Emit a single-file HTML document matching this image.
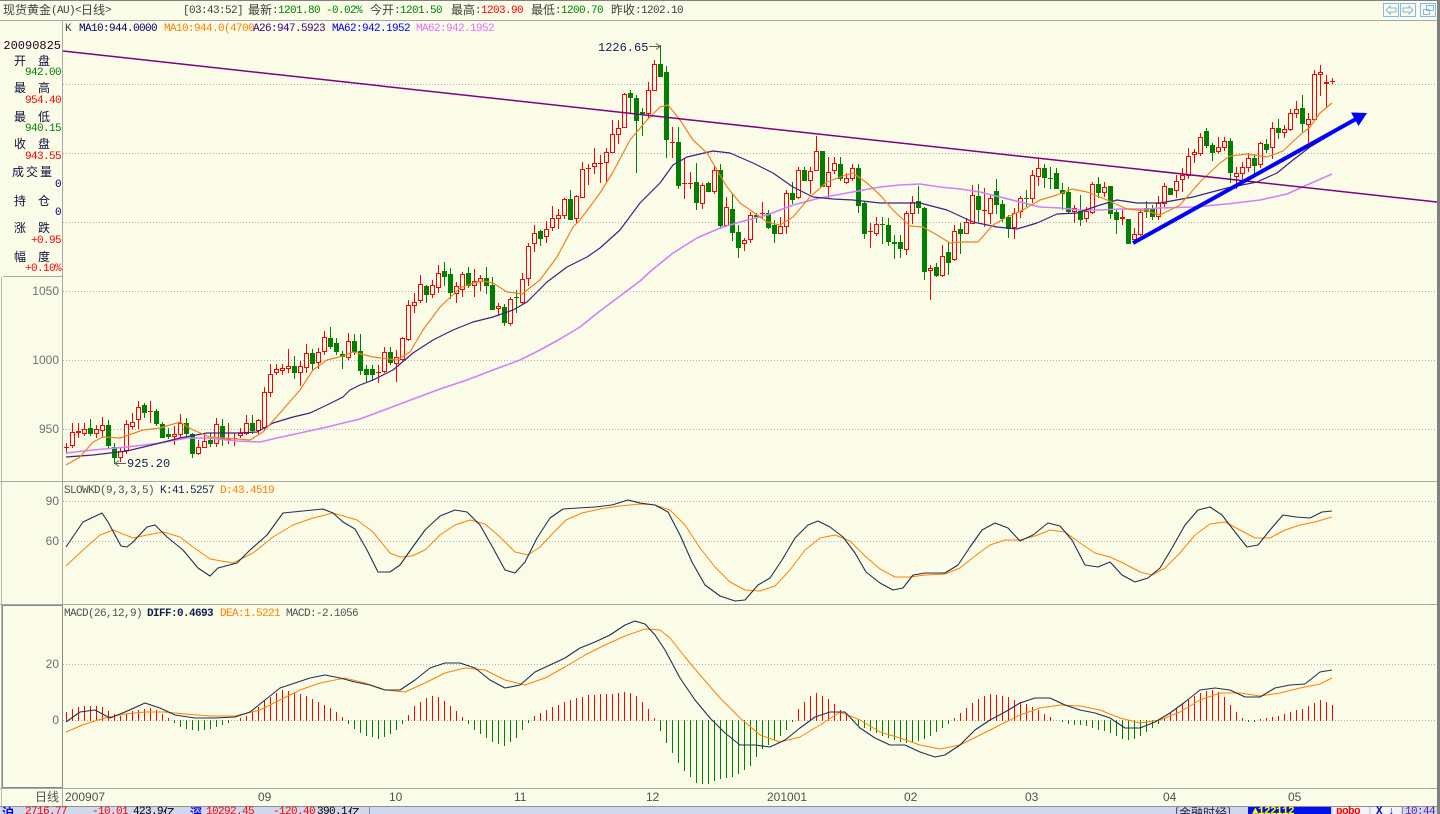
<!DOCTYPE html>
<html><head><meta charset="utf-8">
<style>
html,body{margin:0;padding:0;width:1440px;height:814px;overflow:hidden;background:#FAFCE8;}
#wrap{position:relative;width:1440px;height:814px;overflow:hidden;background:#FAFCE8;}
svg{position:absolute;left:0;top:0;}
#dyn{position:absolute;left:0;top:0;width:1440px;height:814px;}
.m{position:absolute;white-space:pre;font-family:"Liberation Mono",monospace;font-size:11px;letter-spacing:-0.6px;line-height:12px;}
.m12{position:absolute;white-space:pre;font-family:"Liberation Mono",monospace;font-size:12px;line-height:12px;}
.c{position:absolute;white-space:pre;font-family:"Noto Sans CJK SC","WenQuanYi Zen Hei",sans-serif;font-size:12px;line-height:12px;}
.ax{position:absolute;left:0;width:59px;text-align:right;font-family:"Liberation Sans",sans-serif;font-size:12px;line-height:12px;color:#707070;}
.xl{position:absolute;white-space:pre;font-family:"Liberation Sans Narrow","Liberation Sans",sans-serif;font-size:12px;line-height:12px;color:#505050;}
</style></head>
<body><div id="wrap">

<svg width="1440" height="814" shape-rendering="crispEdges">
  <!-- borders -->
  <rect x="0" y="0" width="1440" height="1" fill="#808080"/>
  <rect x="1437" y="0" width="3" height="814" fill="#808080"/>
  <line x1="0" y1="20.5" x2="1437" y2="20.5" stroke="#A8A8A8"/>
  <line x1="62.5" y1="21" x2="62.5" y2="806" stroke="#A8A8A8"/>
  <line x1="0" y1="481.5" x2="1437" y2="481.5" stroke="#A8A8A8"/>
  <line x1="0" y1="604.5" x2="1437" y2="604.5" stroke="#A8A8A8"/>
  <line x1="0" y1="788.5" x2="1437" y2="788.5" stroke="#A8A8A8"/>
  <line x1="3" y1="276.5" x2="62" y2="276.5" stroke="#A8A8A8"/>
  <line x1="1.5" y1="277" x2="1.5" y2="806" stroke="#B8B8B8"/>
  <rect x="2.5" y="605.5" width="60" height="182" fill="none" stroke="#888888"/>
  <!-- dotted grids -->
  <g stroke="#B0B0B0" stroke-dasharray="1 2">
    <line x1="63" y1="84.5" x2="1437" y2="84.5"/>
    <line x1="63" y1="153.5" x2="1437" y2="153.5"/>
    <line x1="63" y1="222.5" x2="1437" y2="222.5"/>
    <line x1="63" y1="291.5" x2="1437" y2="291.5"/>
    <line x1="63" y1="360.5" x2="1437" y2="360.5"/>
    <line x1="63" y1="429.5" x2="1437" y2="429.5"/>
    <line x1="63" y1="501.5" x2="1437" y2="501.5"/>
    <line x1="63" y1="541.5" x2="1437" y2="541.5"/>
    <line x1="63" y1="664.5" x2="1437" y2="664.5"/>
    <line x1="63" y1="720.5" x2="1437" y2="720.5"/>
  </g>
  <!-- top right buttons -->
  <g fill="none" stroke="#80B8F0">
    <rect x="1383.5" y="3.5" width="15" height="13"/>
    <rect x="1400.5" y="3.5" width="15" height="13"/>
    <rect x="1420.5" y="3.5" width="15" height="13"/>
    <polyline points="1386,10 1390,6 1390,8 1396,8 1396,12 1390,12 1390,14 1386,10"/>
    <polyline points="1413,10 1409,6 1409,8 1403,8 1403,12 1409,12 1409,14 1413,10"/>
    <rect x="1426.5" y="5.5" width="7" height="5"/>
    <rect x="1423.5" y="9.5" width="6" height="5"/>
  </g>
  <!-- status bar -->
  <rect x="0" y="806" width="1437" height="8" fill="#D0D8EE"/>
  <line x1="0" y1="806.5" x2="1437" y2="806.5" stroke="#909090"/>
  <line x1="369.5" y1="807" x2="369.5" y2="814" stroke="#8090B0"/>
  <rect x="1248" y="807" width="83" height="7" fill="#0010F0"/>
  <rect x="1333" y="807" width="36" height="7" fill="#F4F4F4"/>
  <rect x="1371" y="807" width="30" height="7" fill="#F4F4F4"/>
  <line x1="1402.5" y1="807" x2="1402.5" y2="814" stroke="#8090B0"/>
</svg>

<div id="dyn"></div>

<svg width="1440" height="814">
  <line x1="63" y1="51" x2="1437" y2="202" stroke="#800080" stroke-width="1.5"/>
  <line x1="1133" y1="243" x2="1356" y2="119" stroke="#0000FF" stroke-width="4"/>
  <polygon points="1367,113 1358.5,126 1351,112.5" fill="#0000FF"/>
  <line x1="649" y1="46.5" x2="660" y2="46.5" stroke="#606060"/>
  <polyline points="656,43.5 660,46.5 656,49.5" fill="none" stroke="#606060"/>
  <line x1="116" y1="463.5" x2="126" y2="463.5" stroke="#606060"/>
  <polyline points="119,460.5 115,463.5 119,466.5" fill="none" stroke="#606060"/>
</svg>

<!-- title bar -->
<div class="c" style="left:3px;top:4px;color:#404040">现货黄金</div>
<div class="m" style="left:51px;top:4.5px;color:#404040">(AU)&lt;</div>
<div class="c" style="left:81px;top:4px;color:#404040">日线</div>
<div class="m" style="left:105px;top:4.5px;color:#404040">&gt;</div>
<div class="m" style="left:183px;top:4.5px;color:#404040">[03:43:52]</div>
<div class="c" style="left:248px;top:4px;color:#404040">最新</div>
<div class="m" style="left:272px;top:4.5px;color:#404040">:</div>
<div class="m" style="left:278px;top:4.5px;color:#008000">1201.80 -0.02%</div>
<div class="c" style="left:370px;top:4px;color:#404040">今开</div>
<div class="m" style="left:394px;top:4.5px;color:#404040">:</div>
<div class="m" style="left:400px;top:4.5px;color:#008000">1201.50</div>
<div class="c" style="left:451px;top:4px;color:#404040">最高</div>
<div class="m" style="left:475px;top:4.5px;color:#404040">:</div>
<div class="m" style="left:481px;top:4.5px;color:#FF0000">1203.90</div>
<div class="c" style="left:531px;top:4px;color:#404040">最低</div>
<div class="m" style="left:555px;top:4.5px;color:#404040">:</div>
<div class="m" style="left:561px;top:4.5px;color:#008000">1200.70</div>
<div class="c" style="left:611px;top:4px;color:#404040">昨收</div>
<div class="m" style="left:635px;top:4.5px;color:#404040">:</div>
<div class="m" style="left:641px;top:4.5px;color:#404040">1202.10</div>

<!-- legend main -->
<div class="m" style="left:65px;top:22.5px;color:#404040">K</div>
<div class="m" style="left:79px;top:22.5px;color:#000060">MA10:944.0000</div>
<div class="m" style="left:164px;top:22.5px;color:#FF8000">MA10:944.0(4700</div>
<div class="m" style="left:253px;top:22.5px;color:#400080">A26:947.5923</div>
<div class="m" style="left:332px;top:22.5px;color:#0000FF">MA62:942.1952</div>
<div class="m" style="left:416px;top:22.5px;color:#E070FF">MA62:942.1952</div>

<!-- left info panel -->
<div class="m12" style="left:3.4px;top:39.7px;color:#200020">20090825</div>
<div class="c" style="left:14px;top:55px;color:#101040">开</div><div class="c" style="left:38px;top:55px;color:#101040">盘</div>
<div class="m" style="left:25px;top:67px;color:#008000">942.00</div>
<div class="c" style="left:14px;top:82px;color:#101040">最</div><div class="c" style="left:38px;top:82px;color:#101040">高</div>
<div class="m" style="left:25px;top:94.5px;color:#FF0000">954.40</div>
<div class="c" style="left:14px;top:110.5px;color:#101040">最</div><div class="c" style="left:38px;top:110.5px;color:#101040">低</div>
<div class="m" style="left:25px;top:123px;color:#008000">940.15</div>
<div class="c" style="left:14px;top:138px;color:#101040">收</div><div class="c" style="left:38px;top:138px;color:#101040">盘</div>
<div class="m" style="left:25px;top:151px;color:#FF0000">943.55</div>
<div class="c" style="left:12px;top:166px;color:#101040">成</div><div class="c" style="left:26px;top:166px;color:#101040">交</div><div class="c" style="left:40px;top:166px;color:#101040">量</div>
<div class="m" style="left:55px;top:178.5px;color:#000080">0</div>
<div class="c" style="left:14px;top:194.5px;color:#101040">持</div><div class="c" style="left:38px;top:194.5px;color:#101040">仓</div>
<div class="m" style="left:55px;top:207px;color:#000080">0</div>
<div class="c" style="left:14px;top:222px;color:#101040">涨</div><div class="c" style="left:38px;top:222px;color:#101040">跌</div>
<div class="m" style="left:31px;top:235px;color:#FF0000">+0.95</div>
<div class="c" style="left:14px;top:250.5px;color:#101040">幅</div><div class="c" style="left:38px;top:250.5px;color:#101040">度</div>
<div class="m" style="left:25px;top:263px;color:#FF0000">+0.10%</div>

<!-- axis labels -->
<div class="ax" style="top:285px">1050</div>
<div class="ax" style="top:354px">1000</div>
<div class="ax" style="top:423px">950</div>
<div class="ax" style="top:495px">90</div>
<div class="ax" style="top:535px">60</div>
<div class="ax" style="top:658px">20</div>
<div class="ax" style="top:714px">0</div>

<!-- price annotations -->
<div class="m12" style="left:598px;top:41.5px;color:#102050">1226.65</div>
<div class="m12" style="left:127px;top:457.5px;color:#102050">925.20</div>

<!-- KD legend -->
<div class="m" style="left:64px;top:484.5px;color:#505050">SLOWKD(9,3,3,5)</div>
<div class="m" style="left:160px;top:484.5px;color:#102050">K:41.5257</div>
<div class="m" style="left:220px;top:484.5px;color:#FF8000">D:43.4519</div>
<!-- MACD legend -->
<div class="m" style="left:64px;top:607.5px;color:#505050">MACD(26,12,9)</div>
<div class="m" style="left:147px;top:607.5px;color:#102050;font-weight:bold">DIFF:0.4693</div>
<div class="m" style="left:220px;top:607.5px;color:#FF8000">DEA:1.5221</div>
<div class="m" style="left:286px;top:607.5px;color:#505050">MACD:-2.1056</div>

<!-- x axis -->
<div class="c" style="left:35px;top:791px;color:#505050">日线</div>
<div class="xl" style="left:65px;top:791px">200907</div>
<div class="xl" style="left:258px;top:791px">09</div>
<div class="xl" style="left:389px;top:791px">10</div>
<div class="xl" style="left:514px;top:791px">11</div>
<div class="xl" style="left:646px;top:791px">12</div>
<div class="xl" style="left:767px;top:791px">201001</div>
<div class="xl" style="left:904px;top:791px">02</div>
<div class="xl" style="left:1025px;top:791px">03</div>
<div class="xl" style="left:1163px;top:791px">04</div>
<div class="xl" style="left:1288px;top:791px">05</div>

<!-- status bar texts -->
<div class="c" style="left:2px;top:807px;color:#0000FF;font-weight:bold">沪</div>
<div class="m" style="left:25px;top:806px;color:#FF0000">2716.77</div>
<div class="m" style="left:92px;top:806px;color:#FF0000">-10.01</div>
<div class="m" style="left:133px;top:806px;color:#000000">423.9</div>
<div class="c" style="left:163px;top:807px;color:#000000">亿</div>
<div class="c" style="left:190px;top:807px;color:#0000FF;font-weight:bold">深</div>
<div class="m" style="left:206px;top:806px;color:#FF0000">10292.45</div>
<div class="m" style="left:273px;top:806px;color:#FF0000">-120.40</div>
<div class="m" style="left:317px;top:806px;color:#000000">390.1</div>
<div class="c" style="left:348px;top:807px;color:#000000">亿</div>
<div class="c" style="left:1175px;top:807px;color:#202040">[金融时经]</div>
<div class="m" style="left:1252px;top:806px;color:#FFFF00;font-weight:bold">▲122112</div>
<div class="m" style="left:1336px;top:806px;color:#FF0000;font-weight:bold">pobo</div>
<div class="m" style="left:1376px;top:806px;color:#0000C0;font-weight:bold">X ↓</div>
<div class="m" style="left:1405px;top:806px;color:#6020A0">10:44</div>

<script>
(function(){
var D=[
[447,447,443,453,1],[432,445,423,447,1],[431,432,423,437,1],[429,433,423,435,1],[428,433,419,435,0],
[429,433,425,437,1],[425,430,417,437,1],[425,445,420,447,0],[447,457,443,463,0],[451,457,447,461,1],
[424,450,420,453,1],[422,426,413,428,1],[407,419,401,428,1],[405,412,403,417,0],[411,411,401,422,1],
[411,423,409,425,0],[424,437,422,437,0],[434,436,428,438,0],[434,436,426,444,1],[423,434,414,437,1],
[423,433,418,437,0],[434,453,433,457,0],[447,453,440,454,1],[441,447,435,447,1],[440,443,433,446,0],
[424,443,418,446,1],[426,439,419,445,0],[438,439,423,443,1],[438,438,433,445,1],[433,435,428,437,1],
[423,433,415,434,1],[423,430,415,433,0],[420,430,419,433,1],[392,427,387,430,1],[374,392,364,396,1],
[369,372,364,374,1],[368,370,364,374,1],[366,368,349,372,1],[366,372,356,378,0],[366,372,361,385,1],
[353,367,344,372,1],[353,363,349,370,0],[352,362,348,368,1],[337,351,331,354,1],[338,346,327,348,0],
[343,351,338,354,0],[354,356,351,368,0],[341,357,333,359,1],[341,351,334,354,0],[351,370,334,374,0],
[369,374,365,381,0],[369,374,365,380,0],[372,372,365,382,1],[352,371,347,372,1],[352,362,347,364,0],
[357,363,350,381,1],[338,359,337,360,1],[305,339,300,340,1],[302,305,293,312,1],[284,300,275,302,1],
[286,294,285,302,0],[285,294,280,297,1],[273,287,265,292,1],[271,276,262,285,0],[274,292,268,298,0],
[286,293,282,302,1],[274,289,272,296,1],[273,285,267,287,0],[281,285,269,296,1],[278,281,275,290,1],
[278,285,267,293,0],[285,309,277,309,0],[306,308,303,315,1],[307,322,304,325,0],[299,323,297,325,1],
[297,297,290,312,0],[279,302,273,303,1],[246,278,243,285,1],[233,243,225,251,1],[231,238,230,245,0],
[229,236,221,242,1],[218,227,206,230,1],[215,218,209,228,1],[199,215,198,218,1],[199,219,190,219,0],
[196,218,195,222,1],[169,197,162,197,1],[168,168,164,184,1],[163,166,148,173,1],[163,163,155,182,1],
[152,162,148,181,1],[134,152,120,152,1],[128,134,120,143,1],[94,127,93,127,1],[93,97,90,112,0],
[98,120,95,172,0],[112,113,108,135,0],[90,113,82,118,1],[64,90,60,90,1],[64,76,45,76,0],
[72,139,66,157,0],[142,142,127,157,1],[142,185,127,188,0],[183,183,158,198,1],[183,183,172,188,1],
[182,202,163,209,0],[185,203,183,208,1],[183,191,182,191,0],[170,191,166,193,1],[170,225,164,228,0],
[207,225,197,225,1],[209,232,194,240,0],[232,247,225,257,0],[240,243,238,250,1],[215,239,212,242,1],
[215,216,213,222,0],[213,213,202,217,1],[213,227,210,228,0],[225,233,220,242,0],[226,233,217,233,1],
[193,226,190,233,1],[193,199,182,203,0],[170,197,167,198,1],[170,180,167,180,0],[171,180,167,193,1],
[151,170,136,170,1],[151,186,151,186,0],[172,186,157,197,1],[163,170,157,173,1],[164,178,157,180,0],
[178,182,173,183,1],[168,178,164,180,1],[168,205,164,212,0],[203,233,202,238,0],[231,231,223,247,1],
[224,233,217,235,1],[224,224,217,243,0],[225,241,218,245,0],[242,243,235,258,0],[242,248,235,257,0],
[213,249,211,254,1],[202,213,196,223,1],[201,207,186,213,0],[208,271,207,279,0],[268,270,265,299,1],
[267,275,263,276,0],[256,275,245,276,1],[252,262,242,274,0],[231,259,225,260,1],[229,233,223,253,0],
[222,233,218,233,1],[195,223,185,223,1],[196,209,184,221,0],[210,210,188,226,1],[198,213,194,223,1],
[191,204,179,213,0],[204,218,200,221,0],[217,228,215,237,0],[213,227,208,238,1],[198,211,196,217,1],
[198,198,190,206,0],[175,198,170,202,1],[168,176,158,185,1],[168,177,164,187,0],[178,178,167,188,0],
[173,188,168,188,0],[190,193,183,209,0],[192,211,187,212,0],[208,211,205,222,1],[211,219,195,225,0],
[211,218,207,221,1],[184,212,182,213,1],[184,192,177,197,0],[187,192,182,196,1],[186,213,186,218,0],
[212,219,210,233,0],[217,218,210,224,1],[219,243,219,243,0],[234,239,228,242,1],[212,234,209,235,1],
[208,211,201,217,0],[209,216,205,219,0],[203,216,196,219,1],[186,203,183,206,1],[188,194,188,194,0],
[181,190,175,197,1],[175,179,168,191,1],[156,175,148,178,1],[152,154,149,162,1],[137,153,133,155,1],
[131,145,128,147,0],[145,152,143,160,0],[147,151,137,153,1],[141,147,137,150,1],[141,172,138,182,0],
[173,176,167,188,1],[167,173,162,182,1],[158,167,153,171,1],[158,165,154,175,0],[143,164,142,167,1],
[144,149,139,152,0],[128,147,122,158,1],[128,132,119,138,0],[129,132,125,137,1],[113,129,109,130,1],
[109,113,101,117,1],[108,123,95,131,0],[119,124,113,142,1],[74,119,70,120,1],[72,74,65,95,1],
[82,83,75,107,1],[81,81,78,83,1]
];
var bg='#FAFCE8';
var s='<svg width="1440" height="814" xmlns="http://www.w3.org/2000/svg">';
var c='<g shape-rendering="crispEdges">';
for(var i=0;i<D.length;i++){
  var x=66+6*i,d=D[i],bt=d[0],bb=d[1],wt=d[2],wb=d[3],r=d[4];
  var col=r?'#FF0000':'#008000';
  c+='<line x1="'+(x+.5)+'" y1="'+wt+'" x2="'+(x+.5)+'" y2="'+(wb+1)+'" stroke="'+col+'"/>';
  if(bb-bt<1){c+='<rect x="'+(x-2)+'" y="'+bt+'" width="5" height="1" fill="'+col+'"/>';}
  else if(r){c+='<rect x="'+(x-1.5)+'" y="'+(bt+.5)+'" width="4" height="'+(bb-bt)+'" fill="'+bg+'" stroke="'+col+'"/>';}
  else{c+='<rect x="'+(x-2)+'" y="'+bt+'" width="5" height="'+(bb-bt+1)+'" fill="'+col+'"/>';}
}
c+='</g>';
function pl(p,col,w){return '<polyline points="'+p+'" fill="none" stroke="'+col+'" stroke-width="'+(w||1)+'" stroke-linejoin="round"/>';}
var MA10="66,465 80,457 93,442 103,437 120,438 143,430 160,428 180,422 193,430 210,437 237,439 250,440 263,432 280,413 300,390 313,370 327,360 343,356 353,352 373,357 397,360 410,352 423,330 440,307 460,288 473,283 483,281 493,283 507,292 522,294 540,280 557,257 573,227 580,220 600,193 613,172 630,140 647,120 660,107 668,105 680,120 693,140 707,153 717,170 727,187 740,203 753,212 767,222 780,225 793,217 810,197 827,182 843,176 853,173 867,183 880,195 893,210 910,226 923,227 937,235 950,243 963,242 978,242 993,225 1007,217 1023,210 1040,200 1057,195 1072,189 1087,192 1107,200 1127,209 1147,211 1160,215 1180,205 1200,182 1220,163 1230,156 1247,154 1267,157 1283,151 1300,135 1310,127 1320,113 1332,103";
var MA26="66,457 93,455 127,451 160,443 180,438 207,433 237,433 257,432 273,423 293,417 310,413 327,405 343,397 350,390 360,385 373,380 393,370 413,353 433,340 453,330 473,322 493,317 513,310 527,302 547,282 567,267 587,257 600,248 620,230 640,203 660,183 673,165 687,157 713,151 730,153 753,163 773,173 793,187 813,197 833,199 853,200 880,203 920,203 947,210 973,222 997,227 1017,229 1037,223 1057,214 1077,213 1097,206 1117,200 1137,203 1160,203 1193,197 1227,188 1257,182 1277,173 1293,160 1310,147 1332,134";
var MA62="66,453 93,450 127,447 160,443 187,438 207,438 237,441 260,442 277,438 300,433 327,427 360,419 400,404 440,389 467,380 493,370 520,360 540,350 560,339 580,327 600,311 620,296 640,281 652,270 673,253 697,238 720,228 740,222 767,215 793,205 820,198 847,193 880,187 900,185 920,184 940,187 960,189 980,192 1000,197 1020,202 1040,207 1060,208 1080,210 1100,210 1120,209 1147,209 1160,208 1193,207 1227,204 1260,200 1287,194 1307,185 1332,174";
c+=pl(MA62,'#D080F8',1.6)+pl(MA26,'#402080',1.2)+pl(MA10,'#F08020',1.2);
var K="66,547 83,522 102,513 108,522 121,546 127,547 133,542 147,527 155,525 167,537 183,550 198,568 210,576 218,568 237,563 250,550 267,535 283,513 293,512 323,509 333,513 343,522 355,529 367,550 378,572 390,572 400,565 412,548 425,530 440,516 455,510 467,512 480,525 493,548 505,570 515,573 525,562 537,538 550,518 563,509 578,508 595,507 612,505 628,500 640,503 655,505 668,512 680,535 692,562 705,585 720,596 735,601 745,600 758,585 770,578 782,560 795,538 808,525 818,521 830,527 843,537 855,553 866,572 880,583 893,590 903,588 913,575 925,573 945,573 958,565 970,547 982,530 995,523 1008,528 1020,541 1033,535 1048,523 1060,526 1072,540 1085,565 1098,567 1110,562 1122,575 1135,582 1148,578 1160,568 1172,548 1185,525 1198,510 1210,507 1222,515 1235,532 1247,547 1258,545 1270,530 1283,515 1296,517 1310,518 1322,512 1332,511";
var DK="66,566 83,550 100,535 113,530 133,538 147,535 163,532 180,537 193,547 210,559 233,563 253,553 273,537 293,525 313,518 333,513 357,520 373,532 390,553 400,557 412,556 425,550 440,535 455,525 470,520 485,524 500,537 515,552 528,555 540,547 553,533 566,520 582,513 600,509 620,506 640,504 655,505 670,510 685,525 700,548 715,567 730,582 745,590 760,591 775,586 790,570 805,550 820,538 835,535 850,541 865,556 880,569 895,577 910,577 925,575 945,574 960,568 975,556 990,545 1005,540 1020,540 1035,536 1050,530 1065,532 1080,543 1095,553 1110,557 1125,564 1140,572 1152,575 1165,568 1180,553 1195,535 1210,524 1225,522 1240,530 1255,538 1270,538 1285,530 1300,525 1315,522 1332,517";
c+=pl(DK,'#FF8000',1)+pl(K,'#203050',1.1);
var H=[[66,8],[80,14],[100,14],[112,6],[120,4],[135,10],[150,12],[160,8],[170,0],[180,-6],[195,-10],[210,-8],[225,-3],[240,2],[250,6],[265,20],[280,30],[295,28],[310,22],[325,15],[340,5],[350,-5],[365,-15],[380,-18],[395,-10],[405,0],[415,15],[430,25],[440,22],[455,10],[465,0],[475,-10],[490,-20],[505,-25],[515,-18],[525,-5],[535,5],[550,12],[570,20],[590,25],[610,26],[625,28],[635,25],[645,15],[655,0],[665,-20],[680,-45],[695,-62],[705,-64],[720,-58],[735,-55],[750,-45],[760,-30],[770,-22],[780,-15],[790,-5],[800,15],[815,28],[830,20],[840,10],[850,2],[860,-5],[875,-12],[890,-18],[905,-22],[920,-20],[935,-12],[948,-3],[958,5],[975,20],[990,26],[1005,24],[1020,18],[1035,12],[1045,5],[1055,0],[1070,-3],[1085,-5],[1095,-8],[1110,-12],[1125,-20],[1135,-18],[1145,-12],[1155,-5],[1165,3],[1180,15],[1195,25],[1210,30],[1220,28],[1230,15],[1240,3],[1250,-2],[1262,1],[1275,3],[1290,8],[1305,12],[1320,20],[1332,15]];
function ip(a,x){if(x<=a[0][0])return a[0][1];for(var j=1;j<a.length;j++){if(x<=a[j][0]){var x0=a[j-1][0],y0=a[j-1][1],x1=a[j][0],y1=a[j][1];return y0+(y1-y0)*(x-x0)/(x1-x0);}}return a[a.length-1][1];}
c+='<g shape-rendering="crispEdges">';
for(var i=0;i<D.length;i++){
  var x=66+6*i,h=Math.round(ip(H,x));
  if(h===0)continue;
  var col=h>0?'#FF0000':'#008000';
  c+='<line x1="'+(x+.5)+'" y1="'+(h>0?721:720)+'" x2="'+(x+.5)+'" y2="'+(720-h+(h>0?0:1))+'" stroke="'+col+'"/>';
}
c+='</g>';
var DIFF="66,722 80,712 95,710 110,718 125,712 145,703 160,708 175,715 195,718 215,718 235,717 250,712 265,700 280,688 295,683 310,678 325,675 340,678 355,682 370,685 385,690 400,690 415,680 430,668 445,663 460,663 475,668 490,680 505,688 520,685 535,672 550,665 565,658 580,648 595,642 610,635 625,625 635,621 645,624 655,635 665,650 680,678 695,700 710,718 725,733 740,745 755,745 770,747 785,740 800,728 815,717 830,712 845,712 860,728 875,738 890,745 905,745 920,752 935,757 945,755 960,745 975,730 990,720 1005,712 1020,703 1035,698 1050,698 1065,705 1080,710 1095,713 1110,718 1125,728 1140,728 1155,722 1170,713 1185,702 1200,690 1215,688 1230,690 1245,697 1260,697 1275,688 1290,685 1305,684 1320,672 1332,670";
var DEA="66,732 85,724 105,718 125,714 145,712 165,712 185,714 210,716 235,716 260,710 280,700 300,690 320,683 345,678 365,683 385,690 405,692 425,683 445,673 465,668 485,670 505,680 525,685 545,678 565,667 585,655 605,645 625,636 645,629 660,630 670,638 685,657 700,675 720,698 740,718 760,735 780,742 800,737 820,725 840,712 860,720 880,732 900,738 920,745 940,749 960,745 980,735 1000,725 1020,715 1040,708 1060,705 1080,706 1100,710 1120,718 1140,723 1160,720 1180,712 1200,700 1220,693 1240,693 1260,696 1280,693 1300,688 1320,684 1332,678";
c+=pl(DEA,'#FF8000',1)+pl(DIFF,'#203050',1.1);
s+=c+'</svg>';
document.getElementById('dyn').innerHTML=s;
})();
</script>
</div></body></html>
